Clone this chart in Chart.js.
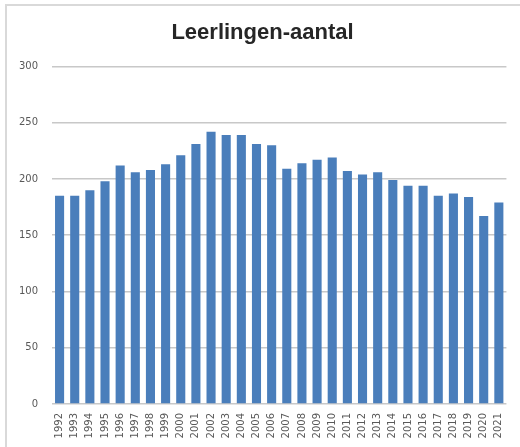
<!DOCTYPE html>
<html>
<head>
<meta charset="utf-8">
<script src="https://cdn.jsdelivr.net/npm/chart.js@4/dist/chart.umd.min.js"></script>
<style>
  html, body { margin: 0; padding: 0; background: #fff; }
  #wrap { position: relative; width: 520px; height: 447px; overflow: hidden; }
  #frame {
    position: absolute; left: 5px; top: 4px; right: -10px; bottom: -10px;
    border: 2px solid #d9d9d9; pointer-events: none;
  }
</style>
</head>
<body>
<div id="wrap">
  <canvas id="chart" width="520" height="447"></canvas>
  <div id="frame"></div>
</div>
<script>
// jaren en leerlingenaantallen
const years = [
  '1992', '1993', '1994', '1995', '1996', '1997', '1998', '1999', '2000', '2001',
  '2002', '2003', '2004', '2005', '2006', '2007', '2008', '2009', '2010', '2011',
  '2012', '2013', '2014', '2015', '2016', '2017', '2018', '2019', '2020', '2021'
];
const pupils = [
  185, 185, 190, 198, 212, 206, 208, 213, 221, 231,
  242, 239, 239, 231, 230, 209, 214, 217, 219, 207,
  204, 206, 199, 194, 194, 185, 187, 184, 167, 179
];
const yTicks = [0, 50, 100, 150, 200, 250, 300];

const ctx = document.getElementById('chart').getContext('2d');

new Chart(ctx, {
  type: 'bar',
  data: {
    labels: years,
    datasets: [{
      label: 'Leerlingen',
      data: pupils,
      backgroundColor: '#4a7ebb',
      borderWidth: 0,
      categoryPercentage: 1.0,
      barPercentage: 0.6,
    }],
  },
  options: {
    responsive: false,
    animation: false,
    layout: {
      padding: { left: 14, right: 9, top: 0, bottom: 5 },
    },
    plugins: {
      legend: { display: false },
      tooltip: { enabled: false },
      title: {
        display: true,
        text: 'Leerlingen-aantal',
        color: '#262626',
        font: { family: 'Liberation Sans', size: 22, weight: 'bold' },
        padding: { top: 20, bottom: 20 },
      },
    },
    scales: {
      x: {
        grid: { display: false, drawTicks: false },
        border: { display: false },
        ticks: {
          autoSkip: false,
          minRotation: 90,
          maxRotation: 90,
          padding: 9,
          color: '#595959',
          font: { family: 'DejaVu Sans', size: 10 },
        },
        afterFit: (scale) => { scale.height = 38; },
      },
      y: {
        min: 0,
        max: 300,
        afterBuildTicks: (scale) => { scale.ticks = yTicks.map(v => ({ value: v })); },
        grid: { color: '#c8c8c8', lineWidth: 1.5, drawTicks: false },
        border: { display: false },
        ticks: {
          padding: 14,
          color: '#595959',
          font: { family: 'DejaVu Sans', size: 10 },
        },
        afterFit: (scale) => { scale.width = 38; },
      },
    },
  },
});
</script>
</body>
</html>
